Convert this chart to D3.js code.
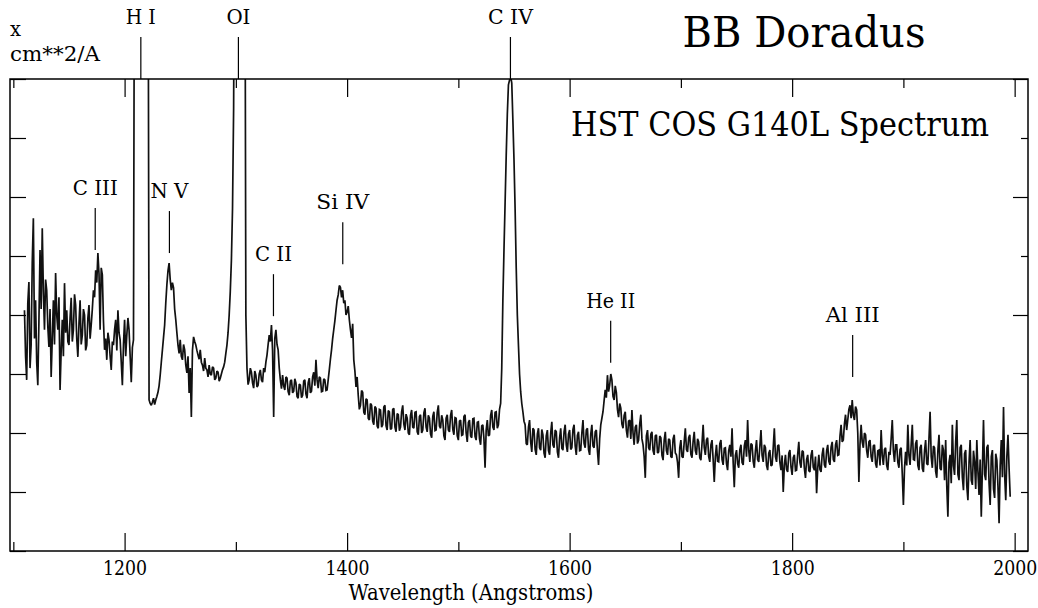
<!DOCTYPE html>
<html><head><meta charset="utf-8">
<script src="https://cdn.jsdelivr.net/npm/d3@7"></script>
<style>
body{margin:0;background:#fff}
svg{display:block}
</style>
</head><body>
<svg id="chart" width="1038" height="608"></svg>
<script>
// ---- data ----
const lambdaStart = 1110;   // Angstrom, first sample
const lambdaStep = 1;       // Angstrom per sample
const flux = [
 4.08,3.30,2.90,4.20,4.56,3.10,3.49,4.90,5.64,3.60,4.25,3.20,2.81,3.90,5.10,4.10,5.47,4.40,3.75,4.60,
 4.42,3.80,3.46,4.10,2.95,3.60,4.25,3.50,4.71,4.00,3.75,4.30,2.73,3.40,3.92,3.30,4.54,3.70,4.08,3.55,
 3.49,3.95,4.29,3.55,3.75,4.35,4.17,3.60,3.29,3.85,4.25,3.50,3.66,4.10,4.00,3.40,3.49,3.95,4.17,3.60,
 3.83,4.10,4.42,4.30,4.76,4.55,5.05,4.70,3.75,4.80,4.68,3.90,3.41,3.60,3.24,3.70,3.58,3.30,3.07,3.55,
 3.49,3.75,3.92,3.40,4.08,3.70,3.58,3.20,2.81,3.50,3.92,3.30,3.66,3.95,3.75,3.30,2.86,3.45,3.58,12,
 12,12,12,12,12,12,12,12,12,12,12,12,2.56,2.50,2.47,2.52,2.59,2.48,2.56,2.62,
 2.69,2.80,2.98,3.20,3.41,3.62,3.83,4.20,4.51,4.75,4.88,4.60,4.42,4.55,4.46,4.10,3.92,3.70,3.49,3.35,
 3.58,3.30,3.24,3.50,3.41,3.15,3.02,3.30,2.68,3.10,2.27,3.40,3.63,3.55,3.49,3.40,3.32,3.25,3.41,3.20,
 3.15,3.05,3.27,3.10,3.07,2.95,3.15,3.00,2.98,3.12,3.10,2.90,2.93,3.05,3.03,2.88,2.93,3.00,3.07,3.12,
 3.20,3.35,3.49,3.70,4.00,4.40,4.93,5.80,7.50,12,12,12,12,12,12,12,12,12,12,4.00,
 3.10,2.82,2.90,3.10,3.03,2.85,2.76,3.05,2.98,2.78,2.81,3.00,3.07,2.90,2.86,3.10,3.03,3.20,3.32,3.50,
 3.66,3.55,3.83,3.40,2.27,3.60,3.75,3.50,3.41,3.10,2.90,2.75,2.98,2.80,2.73,2.95,2.93,2.70,2.64,2.88,
 2.90,2.68,2.71,2.92,2.85,2.62,2.59,2.83,2.81,2.60,2.64,2.88,2.90,2.66,2.59,2.85,2.93,2.68,2.71,2.95,
 3.03,2.80,3.24,2.90,2.76,2.95,2.93,2.70,2.71,2.92,2.90,2.72,2.73,2.90,3.07,3.25,3.41,3.60,3.75,3.90,
 4.08,4.25,4.34,4.50,4.47,4.30,4.42,4.20,4.25,4.00,4.05,4.15,3.92,3.75,3.61,3.85,3.24,3.05,2.78,2.95,
 2.64,2.40,2.47,2.72,2.69,2.35,2.31,2.58,2.56,2.25,2.22,2.50,2.47,2.20,2.14,2.45,2.42,2.12,2.08,2.40,
 2.39,2.10,2.14,2.44,2.47,2.12,2.05,2.38,2.36,2.06,2.08,2.40,2.42,2.10,2.02,2.33,2.31,2.04,2.10,2.36,
 2.47,2.15,2.05,2.32,2.25,2.00,1.97,2.30,2.39,2.10,2.08,2.35,2.36,2.02,1.97,2.28,2.31,2.00,2.05,2.34,
 2.42,2.10,2.02,2.30,2.25,1.98,1.92,2.28,2.36,2.04,2.05,2.35,2.47,2.12,2.08,2.30,2.22,1.95,1.88,2.25,
 2.31,2.05,2.02,2.30,2.39,2.06,1.97,2.26,2.25,1.95,1.88,2.20,2.22,1.96,1.97,2.28,2.31,2.00,1.85,2.18,
 2.22,1.95,1.92,2.24,2.25,1.94,1.88,2.18,2.19,1.90,1.80,2.12,2.14,1.90,1.41,2.05,2.22,1.95,1.97,2.30,
 2.39,2.10,2.05,2.35,2.36,2.08,2.14,2.40,2.50,3.10,4.25,5.10,5.90,6.70,7.40,7.90,7.98,8.05,7.93,7.30,
 6.63,5.80,4.80,4.00,3.49,3.00,2.70,2.50,2.36,2.20,2.14,1.82,1.80,2.10,2.22,1.85,1.68,2.08,2.05,1.72,
 1.63,1.98,2.08,1.75,1.71,2.06,1.97,1.66,1.58,1.95,2.05,1.70,1.63,2.00,2.19,1.80,1.75,2.05,2.02,1.68,
 1.58,1.92,2.08,1.74,1.71,2.02,2.14,1.80,1.68,1.98,2.05,1.72,1.75,2.06,2.14,1.78,1.63,1.96,2.02,1.70,
 1.71,2.00,2.22,1.82,1.75,2.05,2.08,1.72,1.63,1.98,2.14,1.78,1.75,2.02,2.05,1.70,1.46,1.90,2.14,2.25,
 2.36,2.55,2.73,2.60,2.98,2.70,2.81,3.00,2.90,2.62,2.56,2.80,2.69,2.40,2.27,2.50,2.42,2.15,2.08,2.30,
 2.36,2.05,1.92,2.20,2.22,1.90,2.39,2.00,1.80,2.10,2.14,1.82,1.88,2.15,2.31,1.90,1.80,1.60,1.24,1.95,
 2.05,1.75,1.71,1.98,2.02,1.70,1.63,1.95,1.97,1.66,1.68,1.95,1.92,1.62,1.54,1.88,2.02,1.70,1.63,1.90,
 1.88,1.60,1.58,1.90,1.97,1.66,1.63,1.50,1.24,1.75,1.88,1.60,1.58,1.85,2.08,1.72,1.68,1.92,1.97,1.64,
 1.58,1.86,2.02,1.70,1.63,1.90,1.85,1.58,1.54,1.82,2.14,1.75,1.63,1.88,1.92,1.60,1.51,1.80,1.88,1.55,
 1.17,1.60,1.80,1.52,1.51,1.82,1.88,1.55,1.46,1.74,1.75,1.48,1.37,1.70,1.80,1.60,2.08,1.50,1.08,1.62,
 1.71,1.48,1.41,1.72,1.80,1.50,1.46,1.78,1.88,1.60,2.22,1.70,1.51,1.82,1.80,1.52,1.41,1.70,1.88,1.55,
 1.51,1.78,2.05,1.62,1.51,1.80,1.75,1.45,1.37,1.66,1.71,1.44,1.46,1.75,2.08,1.60,1.51,1.78,1.80,1.50,
 1.37,1.62,1.00,1.45,1.63,1.38,1.34,1.66,1.71,1.42,1.29,1.58,1.63,1.36,1.37,1.64,1.85,1.50,1.41,1.70,
 1.68,1.40,1.24,1.55,1.63,1.36,1.34,1.62,1.71,1.42,1.37,1.60,0.98,1.40,1.63,1.38,1.34,1.64,1.75,1.46,
 1.41,1.70,1.80,1.52,1.46,1.76,1.85,1.55,1.51,1.80,1.88,1.62,1.63,1.95,2.14,1.85,1.88,2.15,2.31,2.05,
 2.22,2.40,2.47,2.25,2.56,2.30,2.22,2.45,2.39,2.00,1.17,1.80,2.14,1.85,1.75,2.00,1.97,1.70,1.58,1.85,
 1.88,1.60,1.51,1.78,1.80,1.48,1.41,1.70,1.71,1.45,2.05,1.62,1.46,1.72,1.75,1.45,1.37,1.68,1.63,1.90,
 2.22,1.70,1.51,1.80,1.80,1.50,1.41,1.72,1.75,1.30,0.78,1.40,1.68,1.45,2.14,1.62,1.46,1.80,2.14,1.55,
 1.54,1.82,1.88,1.45,1.37,1.75,1.80,1.40,1.34,1.70,1.88,1.48,1.46,1.90,2.36,1.60,1.41,1.78,1.75,1.35,
 1.24,1.70,1.97,1.40,1.37,1.80,1.71,1.20,1.88,1.10,0.58,1.50,1.63,1.15,2.14,1.45,1.29,1.85,2.22,1.30,
 1.20,1.75,1.80,1.25,1.03,1.65,1.71,1.10,0.86,1.50,1.88,1.20,1.12,1.70,1.51,1.05,1.88,1.35,0.95,1.55,
 0.58,1.40,2.22,1.30,1.20,1.75,1.80,1.15,0.78,1.60,1.71,1.05,0.90,1.65,1.54,1.10,0.47,1.45,1.88,1.25,
 2.44,1.30,0.86,1.60,1.97,1.40,0.92
];
const xMajorTicks = [1200, 1400, 1600, 1800, 2000];
const xMinorTicks = [1100, 1300, 1500, 1700, 1900];
const yLeftTicks = [0, 1, 2, 3, 4, 5, 6, 7, 8];
const yRightMajor = [0, 2, 4, 6, 8];
const yRightMinor = [1, 3, 5, 7];
const lineNames = ["H I", "OI", "C IV", "C III", "N V", "C II", "Si IV", "He II", "Al III"];
const lineWaves = [1214.6, 1302.3, 1546.8, 1173.6, 1240.3, 1333.8, 1396.1, 1636.9, 1854.4];
const lineMarkerBase = [8, 8, 8, 5.10, 5.05, 3.98, 4.86, 3.19, 2.95];
const titleText = "BB Doradus";
const subtitleText = "HST COS G140L Spectrum";
const xAxisLabel = "Wavelength (Angstroms)";
const yAxisLabelLines = ["x", "cm**2/A"];

// ---- drawing ----
const svg = d3.select("#chart");

// pick the first installed serif face (measured against a missing-font fallback)
function pickSerif() {
  const cands = ["Liberation Serif", "Tinos", "Times New Roman", "Times", "Nimbus Roman",
                 "Nimbus Roman No9 L", "DejaVu Serif", "Noto Serif", "FreeSerif", "Georgia"];
  const probe = svg.append("text").attr("x", -1000).attr("y", -1000).attr("font-size", 40)
    .text("BB Doradus Wavelength 1234 HST");
  probe.style("font-family", "zzNoSuchFontzz");
  const base = probe.node().getComputedTextLength();
  let found = null;
  for (const c of cands) {
    probe.style("font-family", `"${c}", zzNoSuchFontzz`);
    const w = probe.node().getComputedTextLength();
    if (Math.abs(w - base) > 0.5) { found = c; break; }
  }
  probe.remove();
  return found ? `"${found}", serif` : "serif";
}
const FONT = pickSerif();

// fit a text to the Times-like width it has in the original figure
function fit(sel, w) {
  return sel.attr("textLength", w).attr("lengthAdjust", "spacingAndGlyphs");
}

const L = 10, R = 1028, T = 79, B = 551;
const x = d3.scaleLinear().domain([1097, 2012]).range([L, R]);
const y = d3.scaleLinear().domain([0, 8]).range([B, T]);

svg.append("defs").append("clipPath").attr("id", "plotclip")
  .append("rect").attr("x", L).attr("y", T).attr("width", R - L).attr("height", B - T);

// spectrum
const line = d3.line()
  .x((d, i) => x(lambdaStart + i * lambdaStep))
  .y(d => y(d));
svg.append("path").datum(flux)
  .attr("clip-path", "url(#plotclip)")
  .attr("fill", "none").attr("stroke", "#111").attr("stroke-width", 1.7)
  .attr("stroke-linejoin", "miter").attr("stroke-miterlimit", 2)
  .attr("d", line);

function styleAxis(g) {
  g.attr("font-family", null);
  g.select(".domain").remove();
  g.selectAll(".tick line").attr("stroke", "#000").attr("stroke-width", 1.2);
  g.selectAll(".tick text").attr("font-size", 20.5).style("font-family", FONT).attr("fill", "#000")
    .attr("textLength", 44).attr("lengthAdjust", "spacingAndGlyphs");
}
// bottom
svg.append("g").attr("transform", `translate(0,${B})`)
  .call(d3.axisBottom(x).tickValues(xMajorTicks).tickSize(-18).tickPadding(9.5).tickFormat(d3.format("d")))
  .call(styleAxis);
svg.append("g").attr("transform", `translate(0,${B})`)
  .call(d3.axisBottom(x).tickValues(xMinorTicks).tickSize(-9).tickFormat(""))
  .call(styleAxis);
// top
svg.append("g").attr("transform", `translate(0,${T})`)
  .call(d3.axisTop(x).tickValues(xMajorTicks).tickSize(-18).tickFormat(""))
  .call(styleAxis);
svg.append("g").attr("transform", `translate(0,${T})`)
  .call(d3.axisTop(x).tickValues(xMinorTicks).tickSize(-9).tickFormat(""))
  .call(styleAxis);
// left
svg.append("g").attr("transform", `translate(${L},0)`)
  .call(d3.axisLeft(y).tickValues(yLeftTicks).tickSize(-16).tickFormat(""))
  .call(styleAxis);
// right
svg.append("g").attr("transform", `translate(${R},0)`)
  .call(d3.axisRight(y).tickValues(yRightMajor).tickSize(-15).tickFormat(""))
  .call(styleAxis);
svg.append("g").attr("transform", `translate(${R},0)`)
  .call(d3.axisRight(y).tickValues(yRightMinor).tickSize(-7).tickFormat(""))
  .call(styleAxis);

// frame
svg.append("rect").attr("x", L).attr("y", T).attr("width", R - L).attr("height", B - T)
  .attr("fill", "none").attr("stroke", "#000").attr("stroke-width", 1.5);

// line identifications
const labelWidth = {"H I": 30, "OI": 24, "C IV": 45, "C III": 45, "N V": 38,
                    "C II": 37, "Si IV": 53, "He II": 49, "Al III": 54};
const ann = svg.append("g");
lineNames.forEach((name, i) => {
  const mx = x(lineWaves[i]);
  const yb = y(lineMarkerBase[i]);
  const yt = yb - 42;
  ann.append("line").attr("x1", mx).attr("x2", mx).attr("y1", yt).attr("y2", yb)
    .attr("stroke", "#000").attr("stroke-width", 1.2);
  fit(ann.append("text").attr("x", mx).attr("y", yt - 13).attr("text-anchor", "middle")
    .style("font-family", FONT).attr("font-size", 20.5).attr("fill", "#000").text(name), labelWidth[name]);
});

// titles
function addText(tx, ty, size, str, w, anchor) {
  const t = svg.append("text").attr("x", tx).attr("y", ty).attr("text-anchor", anchor || "middle")
    .style("font-family", FONT).attr("font-size", size).attr("fill", "#000").text(str);
  return fit(t, w);
}
addText(804, 47, 43, titleText, 243);
addText(780, 136, 34, subtitleText, 418);
addText(471, 600, 22, xAxisLabel, 245);
addText(10, 36, 20, yAxisLabelLines[0], 11, "start");
addText(10, 61, 20, yAxisLabelLines[1], 90, "start");
</script>
</body></html>
